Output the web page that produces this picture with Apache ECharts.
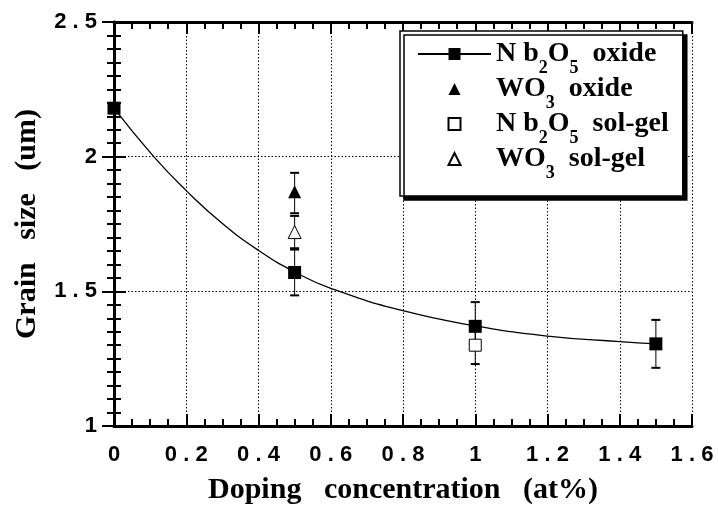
<!DOCTYPE html>
<html><head><meta charset="utf-8">
<script src="https://cdn.jsdelivr.net/npm/echarts@6/dist/echarts.min.js"></script>
<style>html,body{margin:0;padding:0;background:#fff}#c{width:718px;height:510px}</style>
</head><body><div id="c"></div>
<script>
// ---- data ----
const seriesNames = ['Nb2O5 oxide', 'WO3 oxide', 'Nb2O5 sol-gel', 'WO3 sol-gel'];
const legendLabels = ['N b{s|2}O{s|5}  oxide', 'WO{s|3}  oxide', 'N b{s|2}O{s|5}  sol-gel', 'WO{s|3}  sol-gel'];
const nbOxidePoints = [[0, 2.18], [0.5, 1.57], [1.0, 1.37], [1.5, 1.305]];
const woOxidePoints = [[0.5, 1.87]];
const nbSolgelPoints = [[1.0, 1.30]];
const woSolgelPoints = [[0.5, 1.72]];
// [x, low, high]
const nbOxideErr = [[0.5, 1.485, 1.655], [1.0, 1.29, 1.46], [1.5, 1.216, 1.394]];
const woOxideErr = [[0.5, 1.79, 1.94]];
const nbSolgelErr = [[1.0, 1.23, 1.37]];
const woSolgelErr = [[0.5, 1.66, 1.78]];
// fitted curve through Nb2O5 oxide
const fitCurve = [[0, 2.18], [0.11, 2.0], [0.2, 1.874], [0.3, 1.752], [0.4, 1.652], [0.5, 1.572], [0.6, 1.511], [0.8, 1.428], [1.0, 1.372], [1.2, 1.334], [1.4, 1.313], [1.5, 1.305]];
const xAxisName = 'Doping   concentration   (at%)';
const yAxisName = 'Grain   size   (um)';

// ---- rendering ----
const spaced = v => { const s = String(Math.round(v * 10) / 10); return s.split('').join(' '); };
const tickLabelStyle = { color: '#000', fontFamily: 'Liberation Sans, Arial, sans-serif', fontWeight: 'bold', fontSize: 22 };
const axisLineStyle = { show: true, lineStyle: { color: '#000', width: 3 } };
const tickStyle = { show: true, inside: true, length: 12, lineStyle: { color: '#000', width: 2 } };
function minor(n) { return { show: true, splitNumber: n, length: 7, lineStyle: { color: '#000', width: 2 } }; }
const nameStyle = { color: '#000', fontFamily: 'Liberation Serif, serif', fontWeight: 'bold', fontSize: 30 };

function errRender(params, api) {
  const x = api.value(0), lo = api.value(1), hi = api.value(2);
  const a = api.coord([x, lo]), b = api.coord([x, hi]);
  const w = 4.5;
  return { type: 'group', children: [
    { type: 'line', shape: { x1: a[0], y1: a[1], x2: b[0], y2: b[1] }, style: { stroke: '#000', lineWidth: 1 } },
    { type: 'line', shape: { x1: a[0] - w, y1: a[1], x2: a[0] + w, y2: a[1] }, style: { stroke: '#000', lineWidth: 2 } },
    { type: 'line', shape: { x1: b[0] - w, y1: b[1], x2: b[0] + w, y2: b[1] }, style: { stroke: '#000', lineWidth: 2 } }
  ] };
}
function errSeries(data) {
  return { type: 'custom', name: 'err', renderItem: errRender, data: data, encode: { x: 0, y: [1, 2] }, z: 1, silent: true };
}
// marker-only series (line type without a visible line, so the legend draws a proportional symbol)
function markers(name, data, symbol, size, itemStyle) {
  return { type: 'line', name: name, data: data, symbol: symbol, symbolSize: size, showSymbol: true, showAllSymbol: true,
    lineStyle: { width: 0, opacity: 0 }, itemStyle: Object.assign({ opacity: 1 }, itemStyle), z: 3, silent: true };
}

const chart = echarts.init(document.getElementById('c'), null, { renderer: 'canvas' });
chart.setOption({
  animation: false,
  backgroundColor: '#fff',
  grid: { left: 114, right: 26, top: 22, bottom: 79 },
  xAxis: [{
    type: 'value', min: 0, max: 1.6, interval: 0.2, position: 'bottom',
    axisLine: axisLineStyle, axisTick: tickStyle, minorTick: minor(4),
    axisLabel: Object.assign({ margin: 18, formatter: spaced }, tickLabelStyle),
    splitLine: { show: true, lineStyle: { color: '#000', type: [1.5, 2], width: 1 } },
    name: xAxisName, nameLocation: 'middle', nameGap: 49, nameTextStyle: nameStyle
  }, {
    type: 'value', min: 0, max: 1.6, interval: 0.2, position: 'top',
    axisLine: axisLineStyle, axisTick: tickStyle, minorTick: minor(4),
    axisLabel: { show: false }, splitLine: { show: false }
  }],
  yAxis: [{
    type: 'value', min: 1, max: 2.5, interval: 0.5, position: 'left',
    axisLine: axisLineStyle, axisTick: tickStyle, minorTick: minor(10),
    axisLabel: Object.assign({ margin: 17, formatter: spaced }, tickLabelStyle),
    splitLine: { show: true, lineStyle: { color: '#000', type: [1.5, 2], width: 1 } },
    name: yAxisName, nameLocation: 'middle', nameGap: 72, nameTextStyle: nameStyle
  }, {
    type: 'value', min: 1, max: 2.5, interval: 0.5, position: 'right',
    axisLine: axisLineStyle, axisTick: tickStyle, minorTick: minor(10),
    axisLabel: { show: false }, splitLine: { show: false }
  }],
  legend: {
    data: seriesNames, orient: 'vertical', left: 400, top: 31,
    itemWidth: 73, itemHeight: 15, itemGap: -5, itemTextGap: 6,
    padding: [6, 14, 14, 17],
    backgroundColor: '#fff', borderColor: '#000', borderWidth: 1.5, borderRadius: 0,
    shadowColor: '#000', shadowBlur: 0, shadowOffsetX: 4, shadowOffsetY: 4,
    selectedMode: false,
    formatter: name => legendLabels[seriesNames.indexOf(name)],
    textStyle: {
      color: '#000', fontFamily: 'Liberation Serif, serif', fontWeight: 'bold', fontSize: 28, lineHeight: 34,
      rich: { s: { fontFamily: 'Liberation Serif, serif', fontWeight: 'bold', fontSize: 18, height: 6, lineHeight: 6, padding: [28, 0, 0, 0] } }
    }
  },
  series: [
    { type: 'line', name: seriesNames[0], data: fitCurve, smooth: true, symbol: 'rect', showSymbol: false,
      lineStyle: { color: '#000', width: 1.3 }, itemStyle: { color: '#000' }, z: 2, silent: true },
    errSeries(nbOxideErr), errSeries(woOxideErr), errSeries(nbSolgelErr), errSeries(woSolgelErr),
    markers(seriesNames[0], nbOxidePoints, 'rect', 13, { color: '#000' }),
    markers(seriesNames[1], woOxidePoints, 'triangle', 13, { color: '#000' }),
    markers(seriesNames[2], nbSolgelPoints, 'rect', 12, { color: '#fff', borderColor: '#000', borderWidth: 1 }),
    markers(seriesNames[3], woSolgelPoints, 'triangle', 13, { color: '#fff', borderColor: '#000', borderWidth: 1 })
  ]
});
</script>
</body></html>
